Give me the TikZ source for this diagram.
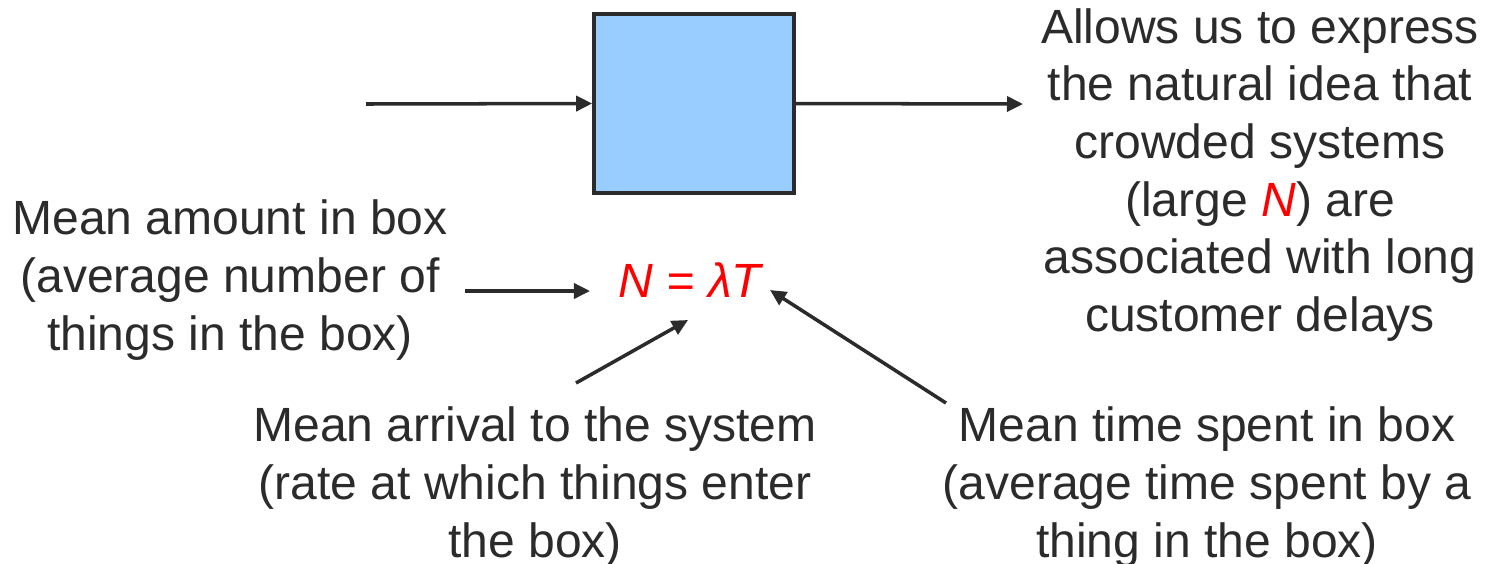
\documentclass[tikz,border=0pt]{standalone}
\usepackage{fontspec}
\setmainfont{Liberation Sans}
\usetikzlibrary{positioning, arrows.meta}
\definecolor{boxblue}{HTML}{99CCFF}
\definecolor{ink}{HTML}{2B2B2B}
\tikzset{
    x=0.01cm, y=-0.01cm, % one unit is one pixel of the original
    flow/.style={draw=ink, line width=1pt, -{Triangle[length=0.16cm, width=0.15cm]}},
    label text/.style={align=center, inner sep=0pt, text=ink, font=\fontsize{13.66pt}{16.4pt}\selectfont},
}
\begin{document}
\begin{tikzpicture}
            \useasboundingbox (0,0) rectangle (1497,563);
            \node[draw=ink, line width=1pt, fill=boxblue, minimum width=2cm, minimum height=1.79cm, inner sep=0pt] (box) at (694,103.5) {};
            \node[label text] (idea) at (1260,175) {Allows us to express\\the natural idea that\\crowded systems\\(large \textcolor{red}{\textit{N}}) are\\associated with long\\customer delays};
            \node[label text] (amount) at (230,280) {Mean amount in box\\(average number of\\things in the box)};
            \node[label text, text=red, font=\fontsize{13.66pt}{16.4pt}\selectfont\itshape] (law) at (690,280) {N = λT};
            \node[label text] (arrival) at (535,487) {Mean arrival to the system\\(rate at which things enter\\the box)};
            \node[label text] (delay) at (1207,487) {Mean time spent in box\\(average time spent by a\\thing in the box)};
            \coordinate (in) at (366,104);
            \coordinate (out) at (1023,104);
            \coordinate (amountTail) at (465,291);
            \coordinate (amountTip) at (590,291);
            \coordinate (arrivalTail) at (576,383);
            \coordinate (arrivalTip) at (688,320);
            \coordinate (delayTail) at (946,403);
            \coordinate (delayTip) at (770,290);
            \draw[flow] (in) -- (box.west);
            \draw[flow] (box.east) -- (out);
            \draw[flow] (amountTail) -- (amountTip);
            \draw[flow] (arrivalTail) -- (arrivalTip);
            \draw[flow] (delayTail) -- (delayTip);
        \end{tikzpicture}
\end{document}
